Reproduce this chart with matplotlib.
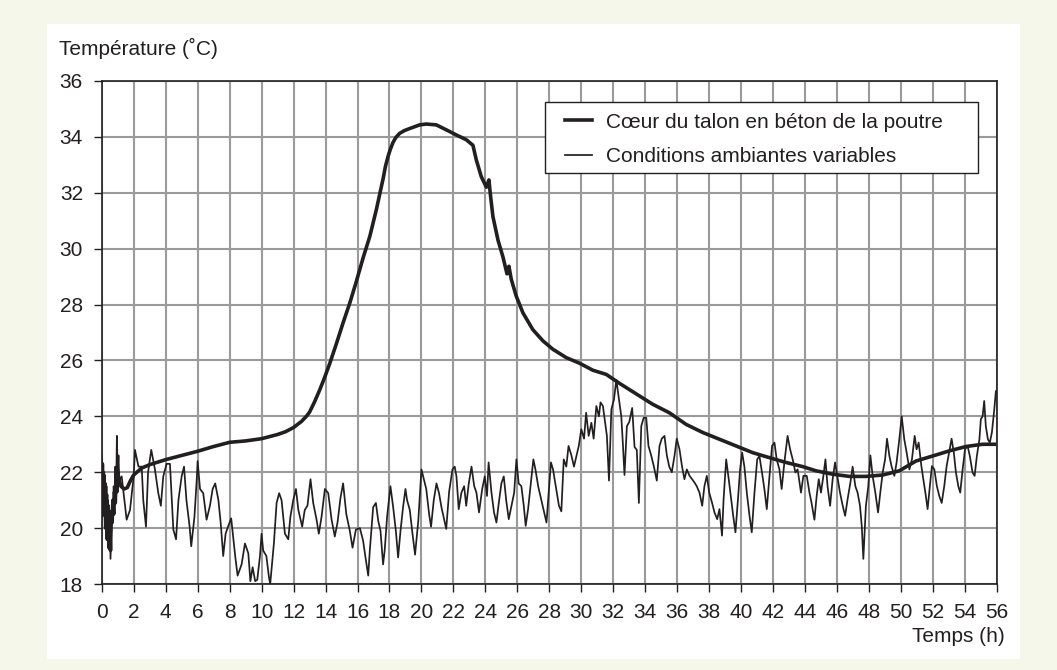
import matplotlib
matplotlib.use("Agg")
from matplotlib import pyplot as plt
from matplotlib.patches import Rectangle

plt.rcParams['font.family'] = ['Liberation Sans', 'DejaVu Sans']

# temperature at the core of the beam heel
core_h = [0.00, 0.05, 0.10, 0.15, 0.20, 0.25, 0.30, 0.35, 0.40, 0.45, 0.50, 0.55, 0.60, 0.65,
          0.70, 0.75, 0.80, 0.85, 0.90, 0.95, 1.00, 1.10, 1.20, 1.40, 1.60, 1.80, 2.00, 2.50,
          3.00, 4.00, 5.00, 6.00, 7.00, 8.00, 9.00, 10.00, 11.00, 11.50, 12.00, 12.50, 12.80,
          13.00, 13.30, 13.64, 13.95, 14.27, 14.68, 15.10, 15.52, 15.93, 16.35, 16.77, 17.18,
          17.60, 17.75, 17.91, 18.05, 18.22, 18.40, 18.64, 18.95, 19.27, 19.89, 20.30, 20.93,
          21.56, 22.18, 22.80, 23.22, 23.43, 23.74, 24.06, 24.22, 24.30, 24.47, 24.79, 25.10,
          25.35, 25.47, 25.62, 25.93, 26.35, 26.97, 27.60, 28.22, 29.06, 29.89, 30.72, 31.56,
          32.39, 33.22, 34.47, 35.50, 36.56, 37.60, 38.64, 39.68, 40.72, 41.77, 42.80, 43.85,
          44.68, 45.72, 46.77, 47.80, 48.85, 49.89, 50.93, 51.97, 53.00, 54.06, 55.10, 55.83]
core_t = [22.3, 21.0, 22.0, 20.5, 21.6, 20.0, 21.2, 19.6, 20.8, 19.3, 20.4, 19.2, 20.6, 20.2,
          21.0, 20.5, 21.3, 20.9, 21.8, 21.3, 22.0, 21.7, 21.5, 21.4, 21.45, 21.7, 21.9, 22.15,
          22.27, 22.45, 22.6, 22.75, 22.92, 23.07, 23.12, 23.2, 23.35, 23.45, 23.6, 23.82, 24.0,
          24.15, 24.5, 24.95, 25.4, 25.9, 26.6, 27.35, 28.06, 28.83, 29.67, 30.44, 31.4,
          32.5, 32.95, 33.3, 33.55, 33.8, 33.98, 34.13, 34.23, 34.3, 34.43, 34.46, 34.43,
          34.25, 34.07, 33.9, 33.7, 33.18, 32.58, 32.2, 32.46, 32.0, 31.15, 30.3, 29.7,
          29.1, 29.37, 28.9, 28.3, 27.7, 27.1, 26.7, 26.4, 26.1, 25.9, 25.65, 25.5,
          25.18, 24.88, 24.43, 24.13, 23.71, 23.42, 23.18, 22.94, 22.7, 22.52, 22.35, 22.2,
          22.05, 21.93, 21.85, 21.85, 21.9, 22.05, 22.4, 22.58, 22.76, 22.92, 23.0, 23.0]

# ambient temperature
amb_h = [0.00, 0.05, 0.10, 0.15, 0.20, 0.25, 0.30, 0.35, 0.40, 0.45, 0.50, 0.55, 0.60, 0.65,
         0.70, 0.75, 0.80, 0.85, 0.90, 0.95, 1.00, 1.05, 1.10, 1.25, 1.56, 1.77, 2.00, 2.08,
         2.30, 2.50, 2.60, 2.77, 2.90, 3.10, 3.33, 3.54, 3.70, 3.85, 4.06, 4.27, 4.48, 4.65,
         4.80, 5.00, 5.15, 5.30, 5.50, 5.60, 5.80, 5.94, 6.00, 6.15, 6.35, 6.56, 6.77, 6.94,
         7.10, 7.30, 7.44, 7.60, 7.75, 7.90, 8.10, 8.20, 8.35, 8.50, 8.75, 8.96, 9.17, 9.30,
         9.44, 9.60, 9.73, 9.90, 10.00, 10.10, 10.30, 10.46, 10.54, 10.77, 10.94, 11.10, 11.25,
         11.46, 11.67, 11.80, 11.98, 12.15, 12.30, 12.54, 12.70, 12.87, 13.06, 13.23, 13.44,
         13.58, 13.75, 13.96, 14.17, 14.38, 14.58, 14.75, 14.94, 15.10, 15.30, 15.52, 15.69,
         15.90, 16.15, 16.35, 16.50, 16.67, 16.77, 16.98, 17.15, 17.30, 17.44, 17.60, 17.70,
         17.85, 18.06, 18.23, 18.40, 18.54, 18.69, 18.85, 19.00, 19.10, 19.27, 19.44, 19.60,
         19.80, 20.00, 20.15, 20.30, 20.48, 20.60, 20.77, 20.94, 21.10, 21.25, 21.55, 21.73,
         21.94, 22.08, 22.19, 22.33, 22.50, 22.67, 22.80, 22.96, 23.13, 23.30, 23.44, 23.60,
         23.80, 23.96, 24.10, 24.20, 24.38, 24.54, 24.69, 24.86, 25.00, 25.15, 25.30, 25.46,
         25.63, 25.80, 25.94, 26.08, 26.25, 26.40, 26.52, 26.67, 26.84, 27.00, 27.13, 27.30,
         27.50, 27.67, 27.82, 27.96, 28.10, 28.23, 28.40, 28.60, 28.75, 28.90, 29.06, 29.20,
         29.38, 29.54, 29.70, 29.84, 30.00, 30.17, 30.30, 30.46, 30.63, 30.77, 30.94, 31.10,
         31.20, 31.35, 31.46, 31.60, 31.73, 31.88, 32.04, 32.19, 32.33, 32.50, 32.60, 32.70,
         32.85, 33.00, 33.18, 33.33, 33.47, 33.60, 33.75, 33.90, 34.06, 34.20, 34.37, 34.54,
         34.72, 34.89, 35.03, 35.20, 35.35, 35.50, 35.66, 35.83, 35.97, 36.14, 36.30, 36.45,
         36.60, 36.77, 36.93, 37.08, 37.22, 37.39, 37.56, 37.70, 37.85, 38.00, 38.18, 38.33,
         38.50, 38.64, 38.80, 38.90, 39.06, 39.22, 39.37, 39.50, 39.64, 39.80, 39.93, 40.06,
         40.20, 40.35, 40.52, 40.66, 40.83, 41.00, 41.14, 41.30, 41.45, 41.60, 41.77, 41.93,
         42.08, 42.22, 42.39, 42.53, 42.70, 42.90, 43.06, 43.22, 43.39, 43.53, 43.74, 43.89,
         44.10, 44.27, 44.40, 44.58, 44.72, 44.85, 44.99, 45.14, 45.27, 45.40, 45.56, 45.72,
         45.87, 46.04, 46.18, 46.35, 46.50, 46.66, 46.83, 46.97, 47.14, 47.28, 47.43, 47.54,
         47.64, 47.80, 47.95, 48.08, 48.22, 48.39, 48.56, 48.70, 48.85, 49.00, 49.12, 49.27,
         49.40, 49.58, 49.72, 49.89, 50.04, 50.20, 50.35, 50.52, 50.68, 50.85, 50.97, 51.10,
         51.27, 51.39, 51.52, 51.66, 51.80, 51.93, 52.08, 52.24, 52.39, 52.54, 52.70, 52.85,
         53.00, 53.16, 53.30, 53.43, 53.58, 53.70, 53.85, 54.00, 54.16, 54.30, 54.47, 54.60,
         54.74, 54.90, 54.99, 55.10, 55.20, 55.30, 55.43, 55.55, 55.68, 55.83, 55.93]
amb_t = [22.6, 20.4, 22.3, 20.6, 21.9, 20.3, 21.5, 19.8, 21.0, 19.4, 20.6, 18.9, 19.8, 20.7,
         20.3, 21.5, 20.8, 22.2, 21.2, 23.3, 22.0, 22.6, 21.7, 21.85, 20.3, 20.65, 21.85, 22.8,
         22.2, 22.2, 21.0, 20.05, 22.0, 22.8, 22.1, 21.25, 20.8, 21.85, 22.3, 22.3, 19.95, 19.6,
         21.0, 21.85, 22.2, 21.0, 20.05, 19.35, 20.4, 21.7, 22.4, 21.4, 21.25, 20.3, 20.8, 21.4,
         21.6, 21.0, 20.2, 19.0, 19.8, 20.05, 20.35, 19.8, 19.0, 18.3, 18.7, 19.45, 19.1, 18.1,
         18.6, 18.1, 18.15, 19.0, 19.8, 19.2, 19.0, 18.25, 18.0, 19.45, 20.9, 21.25, 21.0,
         19.8, 19.6, 20.4, 21.0, 21.4, 20.65, 20.05, 20.65, 20.8, 21.75, 20.9, 20.3,
         19.8, 20.4, 21.4, 21.25, 20.3, 19.7, 20.2, 21.1, 21.6, 20.5, 19.9, 19.3,
         19.95, 20.0, 19.55, 18.95, 18.3, 19.2, 20.75, 20.9, 20.25, 19.9, 18.7, 19.2,
         20.4, 21.5, 20.75, 19.9, 18.95, 19.9, 20.75, 21.4, 21.0, 20.65, 19.8, 19.05,
         20.25, 22.1, 21.75, 21.4, 20.5, 20.05, 21.0, 21.6, 21.25, 20.75, 19.97, 21.3,
         22.1, 22.2, 21.85, 20.68, 21.27, 21.5, 20.8, 21.6, 22.2, 21.5, 21.27, 20.56,
         21.4, 21.85, 21.15, 22.35, 21.27, 20.56, 20.2, 21.0, 21.6, 21.85, 21.0, 20.32,
         20.8, 21.27, 22.46, 21.6, 21.5, 20.8, 20.08, 20.68, 21.6, 22.46, 22.1, 21.5,
         21.0, 20.56, 20.2, 21.27, 22.35, 22.1, 21.5, 20.8, 20.6, 22.46, 22.2, 22.94,
         22.6, 22.2, 22.6, 22.94, 23.54, 23.2, 24.13, 23.3, 23.77, 23.2, 24.37, 24.0,
         24.5, 24.37, 23.9, 23.3, 21.7, 24.25, 24.6, 25.3, 24.7, 24.0, 23.0, 21.9,
         23.65, 23.8, 24.3, 22.9, 22.8, 20.9, 23.65, 23.95, 23.95, 22.94, 22.6, 22.2,
         21.7, 22.94, 23.2, 23.3, 22.6, 22.2, 22.0, 22.6, 23.2, 22.82, 22.2, 21.75,
         22.1, 21.87, 21.75, 21.63, 21.5, 21.27, 20.8, 21.5, 21.87, 21.27, 20.9, 20.56,
         20.32, 20.68, 19.73, 21.05, 22.46, 21.75, 21.05, 20.44, 19.85, 21.05, 22.1, 22.7,
         22.2, 21.27, 20.44, 19.85, 21.27, 22.46, 22.58, 21.99, 21.4, 20.68, 21.87, 22.94,
         23.06, 22.46, 22.1, 21.4, 22.35, 23.3, 22.82, 22.46, 21.99, 22.1, 21.27, 21.87,
         21.87, 21.27, 20.9, 20.3, 21.15, 21.75, 21.27, 21.87, 22.46, 21.5, 20.8, 21.75,
         22.35, 21.75, 21.27, 20.8, 20.44, 21.05, 21.63, 22.2, 21.5, 21.27, 20.8, 20.08,
         18.9, 20.8, 21.5, 22.6, 21.87, 21.27, 20.56, 21.27, 21.99, 22.46, 23.2, 22.58,
         22.22, 21.87, 22.35, 23.18, 24.0, 23.18, 22.7, 22.1, 22.46, 23.3, 22.82, 23.06,
         22.22, 21.75, 21.27, 20.68, 21.5, 22.22, 22.1, 21.5, 21.15, 20.9, 21.5, 22.22,
         22.7, 23.2, 22.7, 21.99, 21.5, 21.27, 22.1, 22.82, 22.94, 22.58, 21.99, 21.87,
         22.58, 23.18, 23.9, 24.0, 24.55, 23.65, 23.18, 23.06, 23.42, 24.25, 24.9]

x_ticks = list(range(0, 57, 2))
y_ticks = list(range(18, 37, 2))

ink = '#231f20'
fs = 15

fig = plt.figure(figsize=(10.57, 6.70), dpi=100)
fig.patch.set_facecolor('#f4f7e9')
# white panel behind the chart
fig.patches.append(Rectangle((47 / 1057, 11 / 670), 973 / 1057, 635 / 670,
                             transform=fig.transFigure, facecolor='white', edgecolor='none', zorder=-10))

ax = fig.add_axes([101.7 / 1057, 86 / 670, 895.3 / 1057, 503 / 670])
ax.set_facecolor('white')

ax.plot(amb_h, amb_t, color=ink, lw=1.25, label='Conditions ambiantes variables', zorder=3)
ax.plot(core_h, core_t, color=ink, lw=2.6, label='Cœur du talon en béton de la poutre', zorder=4)

ax.set_xlim(0, 56)
ax.set_ylim(18, 36)
ax.set_xticks(x_ticks)
ax.set_yticks(y_ticks)
ax.grid(True, color='#9a9a9a', lw=1.5, zorder=1)
ax.set_axisbelow(True)
for s in ax.spines.values():
    s.set_color(ink)
    s.set_linewidth(1.2)
ax.tick_params(direction='out', length=6, width=1, color=ink, labelsize=fs, labelcolor=ink)
ax.tick_params(axis='x', pad=8)
ax.tick_params(axis='y', pad=7.5)

# legend box drawn by hand so the padding matches, entries placed inside it
ax.add_patch(Rectangle((0.495, 0.817), 0.484, 0.141, transform=ax.transAxes,
                       facecolor='white', edgecolor=ink, lw=1.0, zorder=5))
handles, labels = ax.get_legend_handles_labels()
leg = ax.legend(handles[::-1], labels[::-1], loc='upper left', bbox_to_anchor=(0.5175, 0.937),
                borderaxespad=0, borderpad=0, fontsize=fs, frameon=False,
                handlelength=1.3, handletextpad=0.67, labelspacing=0.75)
leg.set_zorder(6)
for t in leg.get_texts():
    t.set_color(ink)

fig.text(59 / 1057, 1 - 48 / 670, 'Température (˚C)', fontsize=fs, color=ink, ha='left', va='center')
fig.text(1005 / 1057, 1 - 636 / 670, 'Temps (h)', fontsize=fs, color=ink, ha='right', va='center')

plt.savefig('out.png', dpi=100, facecolor=fig.get_facecolor())
plt.close()
